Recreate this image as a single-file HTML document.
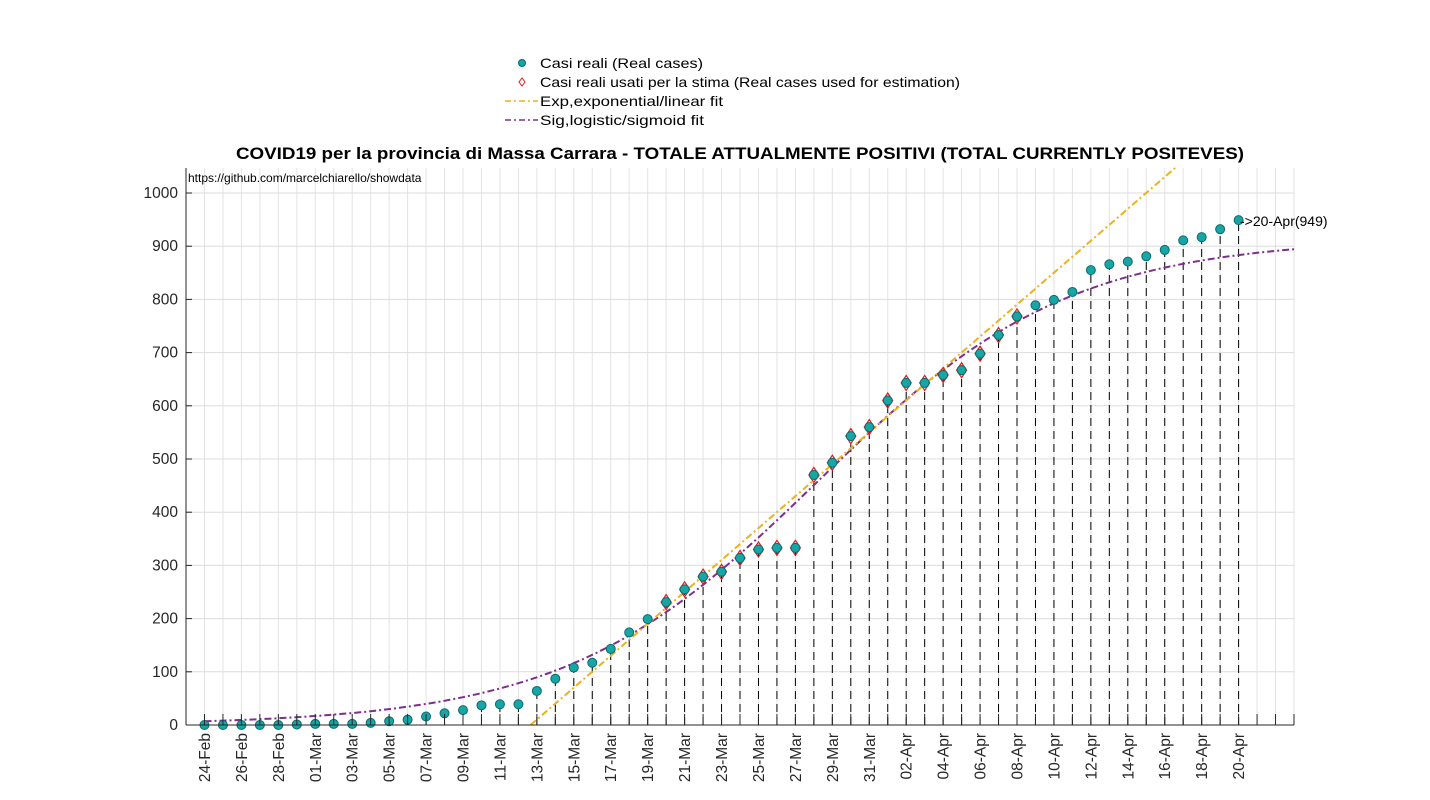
<!DOCTYPE html>
<html><head><meta charset="utf-8"><style>
body{margin:0;background:#fff;}
svg{display:block;font-family:"Liberation Sans",Arial,sans-serif;}
</style></head><body>
<svg id="chart" width="1430" height="800" viewBox="0 0 1430 800" xmlns="http://www.w3.org/2000/svg">
<g id="grid"></g>
<g id="stems"></g>
<g id="fits"></g>
<g id="marks"></g>
<g id="axes"></g>
<text x="740" y="159" text-anchor="middle" font-size="17" font-weight="bold" textLength="1008" lengthAdjust="spacingAndGlyphs">COVID19 per la provincia di Massa Carrara - TOTALE ATTUALMENTE POSITIVI (TOTAL CURRENTLY POSITEVES)</text>
<text x="188" y="182" font-size="12">https://github.com/marcelchiarello/showdata</text>
<g>
<circle cx="522" cy="63" r="3.5" fill="#17a5a5" stroke="#0b6b6b"/>
<text x="540" y="68" font-size="14" textLength="163" lengthAdjust="spacingAndGlyphs">Casi reali (Real cases)</text>
<path d="M522 78 L525 82 L522 86 L519 82 Z" fill="none" stroke="#e31a1c"/>
<text x="540" y="87" font-size="14" textLength="420" lengthAdjust="spacingAndGlyphs">Casi reali usati per la stima (Real cases used for estimation)</text>
<line x1="505" y1="101" x2="538" y2="101" stroke="#edb120" stroke-width="1.6" stroke-dasharray="6,3,2,3"/>
<text x="540" y="106" font-size="14" textLength="183" lengthAdjust="spacingAndGlyphs">Exp,exponential/linear fit</text>
<line x1="505" y1="120" x2="538" y2="120" stroke="#7e2f8e" stroke-width="1.6" stroke-dasharray="6,3,2,3"/>
<text x="540" y="125" font-size="14" textLength="164" lengthAdjust="spacingAndGlyphs">Sig,logistic/sigmoid fit</text>
</g>
<text x="1240" y="226" font-size="14">-&gt;20-Apr(949)</text>
</svg>
<script>
const dates=["24-Feb","25-Feb","26-Feb","27-Feb","28-Feb","29-Feb","01-Mar","02-Mar","03-Mar","04-Mar","05-Mar","06-Mar","07-Mar","08-Mar","09-Mar","10-Mar","11-Mar","12-Mar","13-Mar","14-Mar","15-Mar","16-Mar","17-Mar","18-Mar","19-Mar","20-Mar","21-Mar","22-Mar","23-Mar","24-Mar","25-Mar","26-Mar","27-Mar","28-Mar","29-Mar","30-Mar","31-Mar","01-Apr","02-Apr","03-Apr","04-Apr","05-Apr","06-Apr","07-Apr","08-Apr","09-Apr","10-Apr","11-Apr","12-Apr","13-Apr","14-Apr","15-Apr","16-Apr","17-Apr","18-Apr","19-Apr","20-Apr"];
const cases=[0,0,0,0,0,1,2,2,2,4,7,10,16,22,28,37,39,39,64,87,108,117,143,174,199,231,255,279,288,314,330,333,333,470,493,543,560,610,643,643,658,667,698,733,768,789,799,814,855,866,871,881,893,911,917,932,949];
const estStart=25, estEnd=44;
const yTicks=[0,100,200,300,400,500,600,700,800,900,1000];
const sigK=915, sigR=0.146, sigMid=33.2;
const linSlope=30, linZero=17.66;
const NS="http://www.w3.org/2000/svg";
const X0=186,X1=1294,Y0=725,YT=168,dMin=-1,dMax=59,vMax=1047;
const xs=d=>X0+(d-dMin)/(dMax-dMin)*(X1-X0);
const ys=v=>Y0-v/vMax*(Y0-YT);
function mk(tag,attrs,parent){const e=document.createElementNS(NS,tag);for(const k in attrs)e.setAttribute(k,attrs[k]);document.getElementById(parent).appendChild(e);return e;}
for(let d=dMin;d<=dMax;d++){const g=mk('line',{x1:xs(d),x2:xs(d),y1:YT,y2:Y0,stroke:'#e3e3e3','stroke-width':1},'grid');

}
yTicks.forEach(v=>{const g=mk('line',{x1:X0,x2:X1,y1:ys(v),y2:ys(v),stroke:'#dcdcdc','stroke-width':1},'grid');

});
const ax=mk('line',{x1:X0,x2:X0,y1:YT,y2:Y0,stroke:'#262626'},'axes');


const bx=mk('line',{x1:X0,x2:X1,y1:Y0,y2:Y0,stroke:'#262626'},'axes');


yTicks.forEach(v=>{mk('line',{x1:X0,x2:X0+6,y1:ys(v),y2:ys(v),stroke:'#262626'},'axes');
const t=mk('text',{x:X0-8,y:ys(v)+5,'text-anchor':'end','font-size':15.5,fill:'#262626'},'axes');t.textContent=v;

});
for(let d=0;d<=dMax;d++){mk('line',{x1:xs(d),x2:xs(d),y1:Y0,y2:Y0-11,stroke:'#262626'},'axes');}
dates.forEach((s,i)=>{if(i%2)return;const x=xs(i)+5.5,y=Y0+8;
const t=mk('text',{x:x,y:y,'text-anchor':'end','font-size':15.5,fill:'#262626',transform:`rotate(-90 ${x} ${y})`},'axes');t.textContent=s;

});
cases.forEach((v,i)=>{const l=mk('line',{x1:xs(i),x2:xs(i),y1:Y0,y2:ys(v),stroke:'#000','stroke-width':1,'stroke-dasharray':'8,5'},'stems');

});
let p='';for(let d=0;d<=dMax;d+=0.25){const v=sigK/(1+Math.exp(-sigR*(d-sigMid)));p+=(p?'L':'M')+xs(d).toFixed(1)+' '+ys(v).toFixed(1);}
const sg=mk('path',{d:p,fill:'none',stroke:'#7e2f8e','stroke-width':2,'stroke-dasharray':'7,3,2,3'},'fits');


const dEnd=linZero+vMax/linSlope;
const ln=mk('line',{x1:xs(linZero),y1:ys(0),x2:xs(dEnd),y2:ys(vMax),stroke:'#edb120','stroke-width':2,'stroke-dasharray':'7,3,2,3'},'fits');


cases.forEach((v,i)=>{const x=xs(i),y=ys(v);
if(i>=estStart&&i<=estEnd){const dm=mk('path',{d:`M${x} ${y-7.5}L${x+5} ${y}L${x} ${y+7.5}L${x-5} ${y}Z`,fill:'none',stroke:'#e31a1c','stroke-width':1.2},'marks');

}
const c=mk('circle',{cx:x,cy:y,r:4.5,fill:'#17a5a5',stroke:'#0b6b6b','stroke-width':1},'marks');

});
</script>
</body></html>
